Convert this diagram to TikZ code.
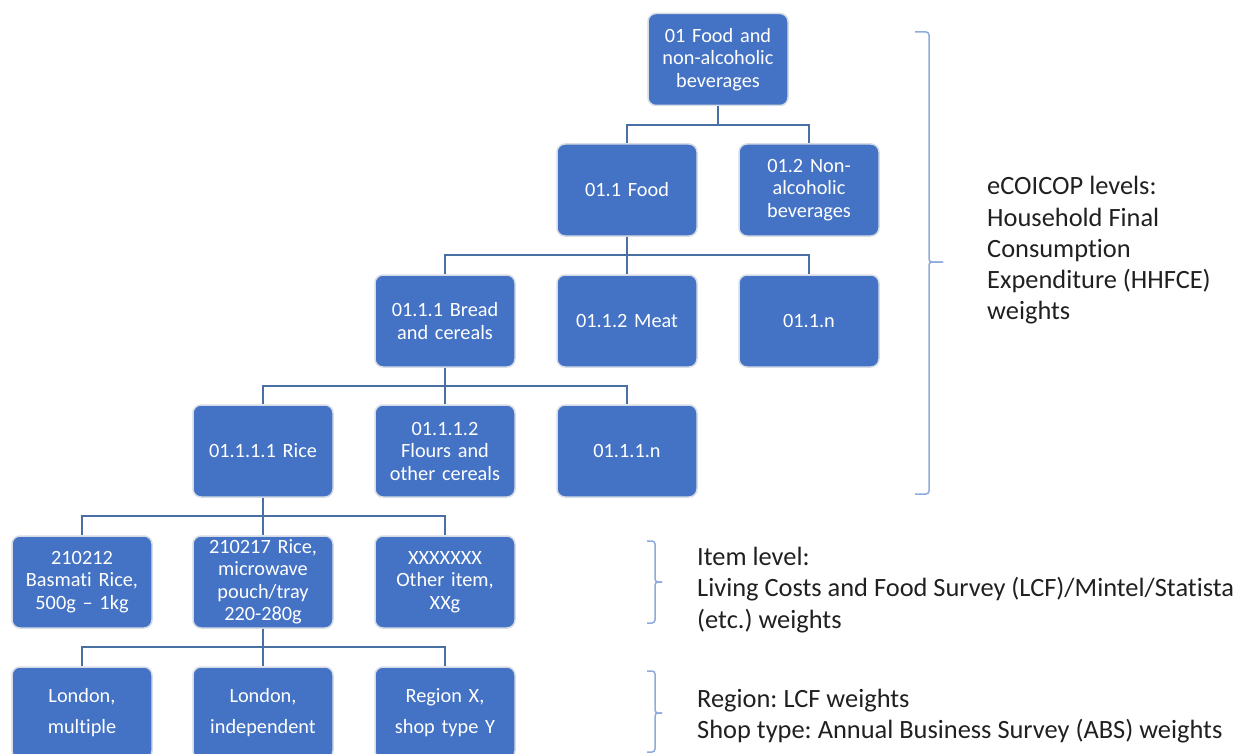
\documentclass[tikz,border=0pt]{standalone}
\usepackage{fontspec}
\setmainfont[Ligatures={NoCommon}]{Carlito}
\frenchspacing
\usetikzlibrary{calc}
\definecolor{boxblue}{HTML}{4472C4}
\definecolor{boxedge}{HTML}{D6DCE5}
\definecolor{linkblue}{HTML}{4A6FA5}
\definecolor{bracecol}{HTML}{8FAADC}
\definecolor{notecol}{HTML}{202020}

\begin{document}
\begin{tikzpicture}[x=1pt,y=-1pt,
  catbox/.style={draw=boxedge, line width=1.5pt, fill=boxblue, rounded corners=8pt,
    minimum width=140pt, minimum height=92pt, text width=132pt, align=center,
    inner sep=0pt, text=white, font=\fontsize{20.3}{22.5}\selectfont},
  loosebox/.style={catbox, font=\fontsize{20.3}{31}\selectfont},
  conn/.style={draw=linkblue, line width=2pt},
  brace/.style={draw=bracecol, line width=1.5pt, rounded corners=3pt},
  note/.style={anchor=west, align=left, inner sep=0pt, text=notecol,
    font=\fontsize{26.4}{31.2}\selectfont}]

\useasboundingbox (0,0) rectangle (1236,754);
\clip (0,0) rectangle (1236,754);

% category tree
\node[catbox] (fnab) at (718,59.5) {01 Food and\\non-alcoholic\\beverages};
\node[catbox] (food) at (627,190) {01.1 Food};
\node[catbox] (nab) at (809,190) {01.2 Non-\\alcoholic\\beverages};
\node[catbox] (bread) at (445,321) {01.1.1 Bread\\and cereals};
\node[catbox] (meat) at (627,321) {01.1.2 Meat};
\node[catbox] (foodn) at (809,321) {01.1.n};
\node[catbox] (rice) at (263,451) {01.1.1.1 Rice};
\node[catbox] (flour) at (445,451) {01.1.1.2\\Flours and\\other cereals};
\node[catbox] (breadn) at (627,451) {01.1.1.n};
\node[catbox] (basmati) at (82,582) {210212\\Basmati Rice,\\500g – 1kg};
\node[catbox] (micro) at (263,582) {210217 Rice,\\microwave\\pouch/tray\\220-280g};
\node[catbox] (other) at (445,582) {XXXXXXX\\Other item,\\XXg};
\node[loosebox] (lonm) at (82,713) {London,\\multiple};
\node[loosebox] (loni) at (263,713) {London,\\independent};
\node[loosebox] (regx) at (445,713) {Region X,\\shop type Y};

% elbow connectors from each parent to its children
\foreach \p/\c in {fnab/food, fnab/nab, food/bread, food/meat, food/foodn,
    bread/rice, bread/flour, bread/breadn, rice/basmati, rice/micro, rice/other,
    micro/lonm, micro/loni, micro/regx}
  \draw[conn] (\p.south) -- ++(0,18.5) -| (\c.north);

% braces grouping the levels
\draw[brace] (915,32) -- (929,32) -- (929,262) -- (943,262);
\draw[brace] (943,262) -- (929,262) -- (929,494) -- (915,494);
\draw[brace] (647,541) -- (655,541) -- (655,582) -- (662,582);
\draw[brace] (662,582) -- (655,582) -- (655,623) -- (647,623);
\draw[brace] (647,671) -- (655,671) -- (655,713) -- (662,713);
\draw[brace] (662,713) -- (655,713) -- (655,752) -- (647,752);

% weight sources
\node[note] (hhfce) at (987,250.5) {eCOICOP levels:\\Household Final\\Consumption\\Expenditure (HHFCE)\\weights};
\node[note] (item) at (697,590) {Item level:\\Living Costs and Food Survey (LCF)/Mintel/Statista\\(etc.) weights};
\node[note] (region) at (697,716) {Region: LCF weights\\Shop type: Annual Business Survey (ABS) weights};
\end{tikzpicture}
\end{document}
